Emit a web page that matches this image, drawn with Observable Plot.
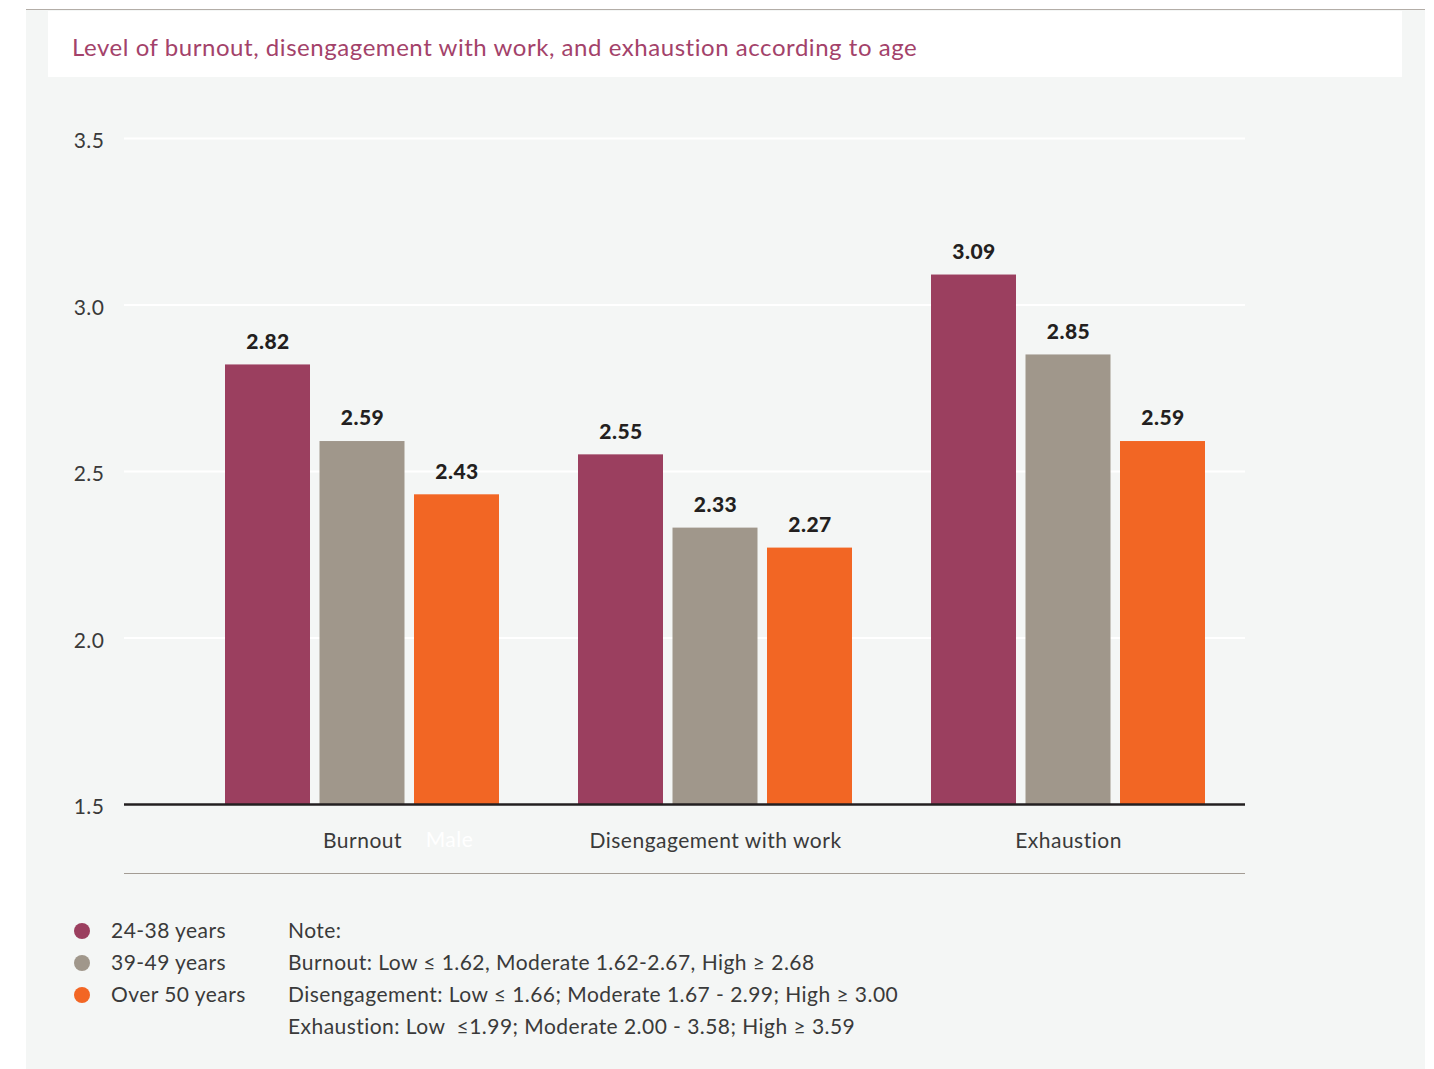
<!DOCTYPE html>
<html>
<head>
<meta charset="utf-8">
<script src="https://cdn.jsdelivr.net/npm/d3@7"></script>
<script src="https://cdn.jsdelivr.net/npm/@observablehq/plot@0.6"></script>
<style>
  html, body { margin: 0; padding: 0; background: #ffffff; width: 1434px; height: 1069px; overflow: hidden; }
  body { position: relative; font-family: Lato, "Open Sans", sans-serif; color: #3a3a3a; }
  #panel { position: absolute; left: 26px; top: 9px; width: 1399px; height: 1060px; background: #f4f6f5; border-top: 1.5px solid #b3ada7; box-sizing: border-box; }
  #titlebox { position: absolute; left: 48px; top: 11px; width: 1354px; height: 66px; background: #ffffff; }
  #title { position: absolute; left: 72px; top: 32px; font-size: 24px; line-height: 30px; letter-spacing: 0.55px; color: #a3426a; white-space: nowrap; }
  #chart { position: absolute; left: 0; top: 0; }
  #chart svg { letter-spacing: 0.5px; }
  #bottomline { position: absolute; left: 124px; top: 873px; width: 1121px; height: 1px; background: #a39c94; }
  .leg { position: absolute; font-size: 21px; line-height: 28px; letter-spacing: 0.45px; color: #3a3a3a; white-space: nowrap; }
  .dot { position: absolute; width: 16px; height: 16px; border-radius: 50%; }
</style>
</head>
<body>
<div id="panel"></div>
<div id="titlebox"></div>
<div id="title">Level of burnout, disengagement with work, and exhaustion according to age</div>
<div id="chart"></div>
<div id="bottomline"></div>
<div id="legend"></div>
<div id="notes"></div>
<script>
const categories = ["Burnout", "Disengagement with work", "Exhaustion"];
const ageGroups = ["24-38 years", "39-49 years", "Over 50 years"];
const values24to38 = [2.82, 2.55, 3.09];
const values39to49 = [2.59, 2.33, 2.85];
const valuesOver50 = [2.43, 2.27, 2.59];
const ageColors = ["#9b3f5f", "#a0978b", "#f26624"];
const yTicks = [1.5, 2.0, 2.5, 3.0, 3.5];
const strayLabel = "Male";
const noteLines = [
  "Note:",
  "Burnout: Low \u2264 1.62, Moderate 1.62-2.67, High \u2265 2.68",
  "Disengagement: Low \u2264 1.66; Moderate 1.67 - 2.99; High \u2265 3.00",
  "Exhaustion: Low \u00a0\u22641.99; Moderate 2.00 - 3.58; High \u2265 3.59"
];

const series = [values24to38, values39to49, valuesOver50];
const rows = [];
ageGroups.forEach((age, i) => {
  categories.forEach((cat, j) => rows.push({category: cat, age, ageIndex: i, value: series[i][j]}));
});

const step = 94.5;
const barMarks = [];
ageGroups.forEach((age, i) => {
  const data = rows.filter(d => d.ageIndex === i);
  barMarks.push(Plot.barY(data, {
    x: "category", y1: yTicks[0], y2: "value", fill: "age",
    insetLeft: i * step, insetRight: (2 - i) * step
  }));
  barMarks.push(Plot.text(data, {
    x: "category", y: "value", text: d => d.value.toFixed(2),
    dx: (i - 1) * step, dy: -23, fontSize: 21, fontWeight: 900, fill: "#231f20"
  }));
});

const chart = Plot.plot({
  width: 1434,
  height: 900,
  marginLeft: 124,
  marginRight: 189,
  marginTop: 138,
  marginBottom: 96,
  style: {background: "transparent", fontFamily: "Lato, 'Open Sans', sans-serif", color: "#3a3a3a"},
  x: {domain: categories, paddingInner: 0.224, paddingOuter: 0.1997, align: 0.716, label: null},
  y: {domain: [1.5, 3.5], label: null},
  color: {domain: ageGroups, range: ageColors},
  marks: [
    Plot.ruleY(yTicks.slice(1), {stroke: "#ffffff", strokeWidth: 2}),
    Plot.axisY({ticks: yTicks, tickSize: 0, tickPadding: 20, tickFormat: d3.format(".1f"), fontSize: 21, fill: "#3a3a3a", dy: 3, label: null}),
    Plot.axisX({tickSize: 0, tickPadding: 29, fontSize: 21, fill: "#3a3a3a", label: null}),
    ...barMarks,
    Plot.ruleY([yTicks[0]], {stroke: "#231f20", strokeWidth: 2.5}),
    Plot.text([strayLabel], {x: () => categories[0], frameAnchor: "bottom", lineAnchor: "middle", dx: 87, dy: 36, fontSize: 21, fill: "#ffffff"})
  ]
});
document.getElementById("chart").appendChild(chart);

const legend = document.getElementById("legend");
ageGroups.forEach((age, i) => {
  const dot = document.createElement("div");
  dot.className = "dot";
  dot.style.left = "74px";
  dot.style.top = (923 + i * 32) + "px";
  dot.style.background = ageColors[i];
  legend.appendChild(dot);
  const lab = document.createElement("div");
  lab.className = "leg";
  lab.style.left = "111px";
  lab.style.top = (916 + i * 32) + "px";
  lab.textContent = age;
  legend.appendChild(lab);
});
const notes = document.getElementById("notes");
noteLines.forEach((t, i) => {
  const el = document.createElement("div");
  el.className = "leg";
  el.style.left = "288px";
  el.style.top = (916 + i * 32) + "px";
  el.textContent = t;
  notes.appendChild(el);
});
</script>
</body>
</html>
